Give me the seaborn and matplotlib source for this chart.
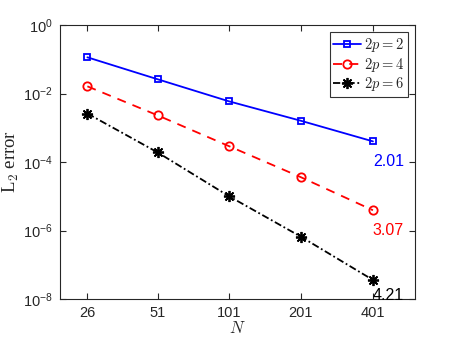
import numpy as np
import pandas as pd
import matplotlib
matplotlib.use("Agg")
import matplotlib.pyplot as plt
import seaborn as sns
from matplotlib.ticker import FixedLocator, FixedFormatter, NullLocator

# Data
N = [26, 51, 101, 201, 401]
err_p2 = [0.114, 0.026, 0.0059, 0.0016, 0.0004]
err_p4 = [0.0162, 0.0023, 2.9e-4, 3.6e-5, 3.9e-6]
err_p6 = [2.6e-3, 1.9e-4, 1.0e-5, 6.6e-7, 3.6e-8]
labels = [r"$2p=2$", r"$2p=4$", r"$2p=6$"]
rates = ["2.01", "3.07", "4.21"]

sns.set_style("ticks")
plt.rcParams['font.family'] = ['Liberation Sans', 'DejaVu Sans']
plt.rcParams['mathtext.fontset'] = 'cm'

colors = ["#0000ff", "#ff0000", "#000000"]
linestyles = ["-", (0, (5, 4)), (0, (4, 1.5, 1, 1.5))]
markers = ["s", "o", (8, 2, 0)]
msizes = [5, 6, 8]

fig = plt.figure(figsize=(4.58, 3.43), dpi=100)
ax = fig.add_axes([60 / 458, 1 - 299 / 343, (415 - 60) / 458, (299 - 25) / 343])

series = [err_p2, err_p4, err_p6]
for i, s in enumerate(series):
    d = pd.DataFrame({"N": N, "err": s})
    sns.lineplot(data=d, x="N", y="err", color=colors[i], linestyle=linestyles[i],
                 marker=markers[i], markersize=msizes[i], markerfacecolor="none",
                 markeredgecolor=colors[i], markeredgewidth=1.3,
                 linewidth=1.3, ax=ax, label=labels[i])

ax.set_xscale("log")
ax.set_yscale("log")
ax.set_xlim(20, 600)
ax.set_ylim(1e-8, 1)
ax.xaxis.set_major_locator(FixedLocator(N))
ax.xaxis.set_major_formatter(FixedFormatter([str(n) for n in N]))
ax.xaxis.set_minor_locator(NullLocator())
yt = [1e-8, 1e-6, 1e-4, 1e-2, 1]
ax.yaxis.set_major_locator(FixedLocator(yt))
ax.yaxis.set_major_formatter(FixedFormatter([r"$\mathregular{10^{-8}}$", r"$\mathregular{10^{-6}}$",
                                             r"$\mathregular{10^{-4}}$", r"$\mathregular{10^{-2}}$",
                                             r"$\mathregular{10^{0}}$"]))
ax.yaxis.set_minor_locator(NullLocator())
ax.tick_params(direction="in", top=True, right=True, length=4, width=0.8,
               labelsize=10.5, colors="#262626", pad=5)
for sp in ax.spines.values():
    sp.set_linewidth(0.8)
    sp.set_color("#262626")
    sp.set_visible(True)

ax.set_xlabel(r"$N$", fontsize=12, labelpad=0)
ax.set_ylabel(r"L$_2$ error", fontsize=13.5, family="Liberation Serif", labelpad=2)

# rate annotations
drop = [0.6, 0.6, 0.45]
for i, (s, r) in enumerate(zip(series, rates)):
    y = s[-1] * 10 ** (-drop[i])
    ax.text(N[-1], y, r, color=colors[i], fontsize=11.5, ha="left", va="center")

leg = ax.legend(loc="upper right", fontsize=10.5, frameon=True, fancybox=False,
                edgecolor="black", handlelength=1.9, handletextpad=0.2,
                borderpad=0.25, labelspacing=0.12, borderaxespad=0.5)
leg.get_frame().set_linewidth(0.8)

fig.savefig("out.png", dpi=100)
